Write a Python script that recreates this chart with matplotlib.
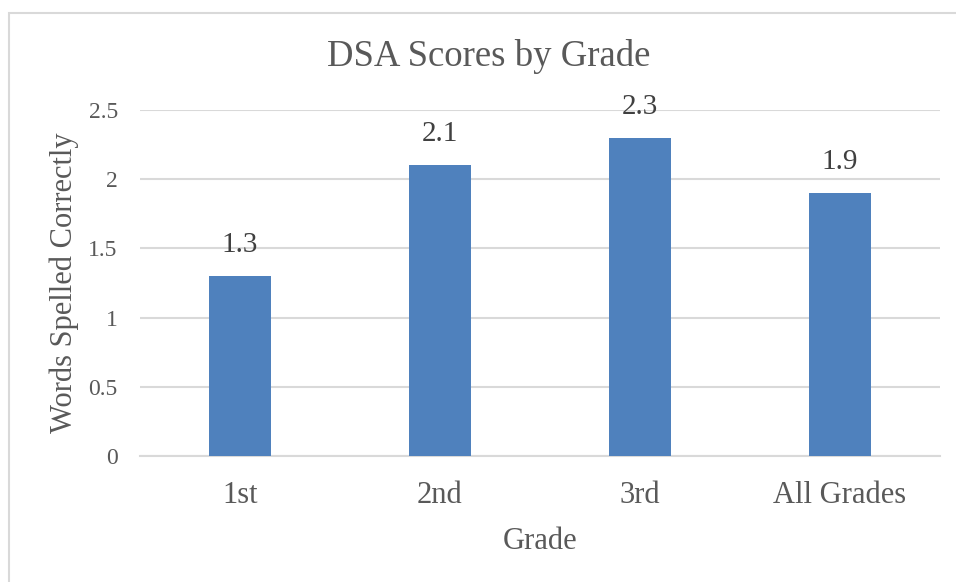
import matplotlib.pyplot as plt
from matplotlib.patches import Rectangle

# data
grades = ["1st", "2nd", "3rd", "All Grades"]
scores = [1.3, 2.1, 2.3, 1.9]
score_labels = ["1.3", "2.1", "2.3", "1.9"]
y_ticks = [0, 0.5, 1, 1.5, 2, 2.5]
y_tick_labels = ["0", "0.5", "1", "1.5", "2", "2.5"]

bar_color = "#4F81BD"
text_color = "#595959"
grid_color = "#D9D9D9"

plt.rcParams["font.family"] = ["Liberation Serif", "DejaVu Serif"]

fig = plt.figure(figsize=(9.56, 5.82), dpi=100)
W, H = 956, 582

# outer chart frame (runs off the right and bottom edge)
frame = Rectangle((9 / W, -0.05), 1.2, (H - 13) / H + 0.05,
                  transform=fig.transFigure, fill=False,
                  edgecolor=grid_color, linewidth=1.5, clip_on=False)
fig.patches.append(frame)

ax = fig.add_axes([140 / W, (H - 456) / H, 800 / W, 346 / H])

x = range(len(grades))
bars = ax.bar(x, scores, width=0.31, color=bar_color, zorder=3)

for b, lab in zip(bars, score_labels):
    ax.annotate(lab, (b.get_x() + b.get_width() / 2, b.get_height()),
                xytext=(0, 13), textcoords="offset points",
                ha="center", va="bottom", fontsize=21, color="#404040")

ax.set_xlim(-0.5, len(grades) - 0.5)
ax.set_ylim(0, 2.5)
ax.set_yticks(y_ticks)
ax.set_yticklabels(y_tick_labels, fontsize=17, color=text_color)
ax.set_xticks(list(x))
ax.set_xticklabels(grades, fontsize=22, color=text_color)
ax.tick_params(axis="both", length=0)
ax.tick_params(axis="y", pad=16)
ax.tick_params(axis="x", pad=18)

ax.grid(axis="y", color=grid_color, linewidth=1.5, zorder=0)
for side in ["top", "right", "left"]:
    ax.spines[side].set_visible(False)
ax.spines["bottom"].set_color(grid_color)
ax.spines["bottom"].set_linewidth(1.5)

ax.set_xlabel("Grade", fontsize=22, color=text_color, labelpad=12)
ax.set_ylabel("Words Spelled Correctly", fontsize=22, color=text_color, labelpad=7)

fig.text(489 / W, (H - 57) / H, "DSA Scores by Grade", ha="center", va="center",
         fontsize=26.5, color=text_color)

fig.savefig("out.png", dpi=100)
